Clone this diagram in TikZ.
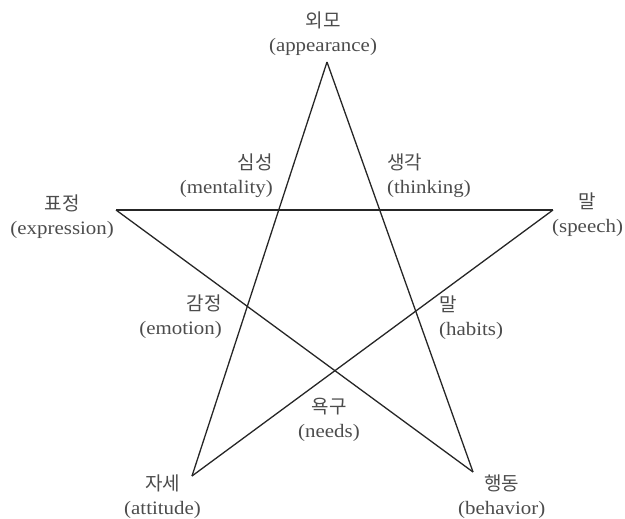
\documentclass[tikz,border=0pt]{standalone}
\usepackage{fontspec}
\setmainfont{Liberation Serif}[FakeStretch=1.1]
\newfontfamily\kr{Noto Sans CJK KR}
\usetikzlibrary{positioning}

\begin{document}
\begin{tikzpicture}[
		x=1pt, y=-1pt,
		edge/.style={line width=1.3pt, black!85, line join=miter},
		trait/.style={font=\fontsize{19}{24}\selectfont\color{black!70}, align=center, inner sep=1pt},
		inner/.style={trait}
		]
		\useasboundingbox (0,0) rectangle (625,519);
		
		% --- Star points ---
		\coordinate (top) at (327,62);
		\coordinate (lft) at (116,210);
		\coordinate (rgt) at (553,210);
		\coordinate (botl) at (192,476);
		\coordinate (botr) at (473,472);
		
		\draw[edge] (top) -- (botl);
		\draw[edge] (top) -- (botr);
		\draw[edge] (lft) -- (rgt);
		\draw[edge] (lft) -- (botr);
		\draw[edge] (rgt) -- (botl);
		
		% --- Labels at the points ---
		\node[trait, above=5pt of top, xshift=-4pt] (appear) {{\kr 외모}\\(appearance)};
		\node[trait, left=1pt of lft, yshift=-7pt] (express) {{\kr 표정}\\(expression)};
		\node[trait, right=-2pt of rgt, yshift=-5pt] (speech) {{\kr 말}\\(speech)};
		\node[trait, below left=-2pt and -10pt of botl] (attit) {{\kr 자세}\\(attitude)};
		\node[trait, below right=2pt and -16pt of botr] (behav) {{\kr 행동}\\(behavior)};
		
		% --- Labels inside ---
		\node[inner, anchor=east, align=right] (mental) at (274,176) {{\kr 심성}\\(mentality)};
		\node[inner, anchor=west, align=left] (think) at (386,176) {{\kr 생각}\\(thinking)};
		\node[inner, anchor=east, align=right] (emot) at (223,317) {{\kr 감정}\\(emotion)};
		\node[inner, anchor=west, align=left] (habit) at (438,318) {{\kr 말}\\(habits)};
		\node[inner] (needs) at (329,420) {{\kr 욕구}\\(needs)};
		
	\end{tikzpicture}
\end{document}
